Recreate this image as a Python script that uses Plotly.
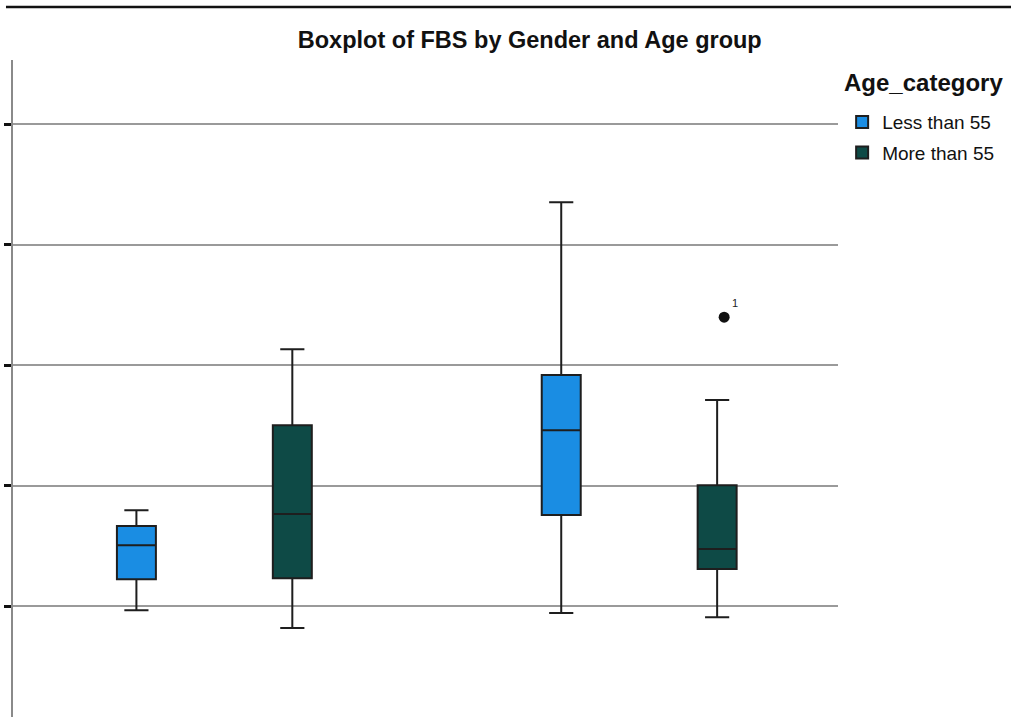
import plotly.graph_objects as go

genders = ["Male", "Female"]
age_groups = ["Less than 55", "More than 55"]
colors = {"Less than 55": "#1a8de3", "More than 55": "#0e4a46"}

# precomputed box statistics per age group, one value per gender
lower = {"Less than 55": [98.3, 97.1], "More than 55": [90.9, 95.4]}
q1 = {"Less than 55": [111.2, 137.8], "More than 55": [111.6, 115.4]}
median = {"Less than 55": [125.3, 173.0], "More than 55": [138.2, 123.7]}
q3 = {"Less than 55": [133.2, 195.9], "More than 55": [175.1, 150.2]}
upper = {"Less than 55": [139.8, 267.6], "More than 55": [206.6, 185.5]}

outlier_gender = ["Female"]
outlier_value = [219.9]
outlier_label = ["1"]

ytick_vals = [100, 150, 200, 250, 300]

fig = go.Figure()
for ag in age_groups:
    fig.add_trace(go.Box(
        name=ag,
        x=genders,
        q1=q1[ag], median=median[ag], q3=q3[ag],
        lowerfence=lower[ag], upperfence=upper[ag],
        fillcolor=colors[ag],
        line=dict(color="#1e1e1e", width=2),
        whiskerwidth=0.62,
        boxpoints=False,
        offsetgroup=ag,
        legendgroup=ag,
    ))

fig.add_trace(go.Scatter(
    x=outlier_gender, y=outlier_value,
    mode="markers+text",
    marker=dict(color="#111111", size=11),
    text=outlier_label, textposition="top right",
    textfont=dict(size=11, color="#222222"),
    offsetgroup="More than 55",
    showlegend=False,
))

fig.update_layout(
    width=1011, height=717,
    margin=dict(l=13, r=173, t=60, b=0, autoexpand=False),
    paper_bgcolor="white", plot_bgcolor="white",
    boxmode="group", scattermode="group",
    boxgap=0.266, boxgroupgap=0.75,
    title=dict(text="<b>Boxplot of FBS by Gender and Age group</b>",
               x=0.524, xanchor="center", y=0.944, yanchor="middle",
               font=dict(family="Liberation Sans, Arial", size=23.5, color="#111111")),
    font=dict(family="Liberation Sans, Arial", color="#111111"),
    legend=dict(
        x=1.005, xanchor="left", y=0.9345, yanchor="top",
        font=dict(size=19), itemwidth=30, tracegroupgap=3,
    ),
    showlegend=True,
)
fig.add_annotation(text="<b>Age_category</b>", xref="paper", yref="paper",
                   x=1.104, y=0.965, xanchor="center", yanchor="middle",
                   showarrow=False, font=dict(size=24, color="#111111"))
fig.update_xaxes(showticklabels=False, showgrid=False, zeroline=False,
                 showline=False, ticks="", automargin=False,
                 range=[-0.474, 1.468])
fig.update_yaxes(range=[54, 326.6], tickvals=ytick_vals, showticklabels=False,
                 showgrid=True, gridcolor="#9a9a9a", gridwidth=1.6,
                 zeroline=False, showline=True, linecolor="#8a8a8a", linewidth=2,
                 ticks="outside", ticklen=7, tickwidth=3, tickcolor="#111111",
                 automargin=False)

fig.add_shape(type="line", xref="paper", yref="paper",
              x0=-0.0085, x1=1.21, y0=1.0807, y1=1.0807,
              line=dict(color="#111111", width=2.5))

fig.write_html("out.html", config={"displayModeBar": False},
               post_script="document.body.style.margin='0';")
